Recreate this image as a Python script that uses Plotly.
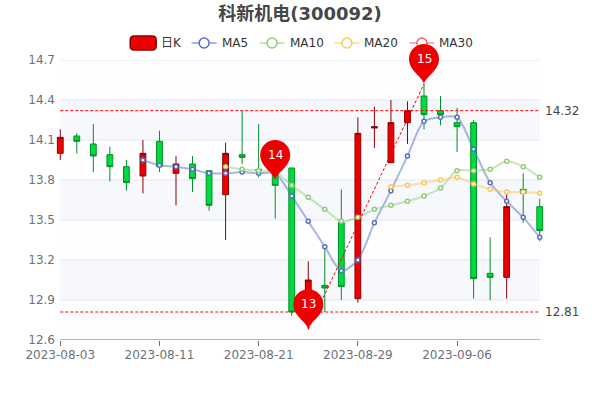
import plotly.graph_objects as go

dates = ["2023-08-03","2023-08-04","2023-08-07","2023-08-08","2023-08-09","2023-08-10","2023-08-11",
         "2023-08-14","2023-08-15","2023-08-16","2023-08-17","2023-08-18","2023-08-21","2023-08-22",
         "2023-08-23","2023-08-24","2023-08-25","2023-08-28","2023-08-29","2023-08-30","2023-08-31",
         "2023-09-01","2023-09-04","2023-09-05","2023-09-06","2023-09-07","2023-09-08","2023-09-11",
         "2023-09-12","2023-09-13"]
opens  = [14.00,14.13,14.07,13.99,13.90,13.83,14.09,13.85,13.92,13.87,13.69,13.99,13.88,13.87,13.89,12.82,13.01,13.48,12.91,14.19,13.93,14.23,14.43,14.32,14.23,14.23,13.10,13.07,13.73,13.60]
closes = [14.12,14.09,13.98,13.90,13.78,14.00,13.90,13.92,13.81,13.61,14.00,13.97,13.87,13.76,12.81,13.05,12.99,13.00,14.15,14.20,14.23,14.32,14.29,14.29,14.20,13.06,13.07,13.60,13.70,13.42]
highs  = [14.18,14.15,14.22,14.05,13.95,14.10,14.17,13.98,13.98,13.87,14.08,14.32,14.22,13.88,13.89,13.19,13.30,13.73,14.27,14.35,14.40,14.39,14.52,14.43,14.34,14.25,13.37,13.70,13.85,13.66]
lows   = [13.95,14.00,13.86,13.79,13.72,13.70,13.86,13.61,13.71,13.57,13.35,13.92,13.82,13.51,12.78,12.68,12.81,12.90,12.88,14.04,13.93,14.07,14.18,14.21,14.01,12.91,12.90,12.91,13.48,13.34]

ma5  = [None]*5 + [13.95,13.91,13.90,13.88,13.85,13.85,13.86,13.85,13.85,13.68,13.49,13.30,13.12,13.20,13.48,13.72,13.98,14.24,14.27,14.27,14.03,13.78,13.64,13.52,13.37]
ma10 = [None]*10 + [13.90,13.88,13.87,13.86,13.76,13.67,13.58,13.49,13.52,13.58,13.61,13.64,13.68,13.74,13.87,13.87,13.88,13.94,13.90,13.82]
ma20 = [None]*20 + [13.75,13.76,13.78,13.80,13.82,13.77,13.73,13.71,13.71,13.70]
ma30 = [None]*30

y_ticks = [12.6,12.9,13.2,13.5,13.8,14.1,14.4,14.7]
x_ticks = dates[0::6]
ref_high = 14.32
ref_low = 12.81
pin_labels = ["13","14","15"]
pin_x = [dates[15],dates[13],dates[22]]
pin_y = [12.68,13.80,14.52]

RED="#ec0000"; GREEN="#00da3c"
FONT="DejaVu Sans, Noto Sans CJK SC, sans-serif"
W=496.56; L=51.72
Y0,Y1=y_ticks[0],y_ticks[-1]
def px(x): return (x-L)/W
def py(y): return (340-y)/280
def vy(v): return (v-Y0)/(Y1-Y0)

fig = go.Figure()
fig.add_trace(go.Candlestick(x=dates,open=opens,high=highs,low=lows,close=closes,name="日K",
    increasing=dict(line=dict(color="#8A0000",width=1),fillcolor=RED),
    decreasing=dict(line=dict(color="#008F28",width=1),fillcolor=GREEN),
    whiskerwidth=0,hoverinfo="skip",showlegend=False))
series=[("MA5",ma5,"#5470c6","rgba(84,112,198,0.5)"),
        ("MA10",ma10,"#91cc75","rgba(145,204,117,0.5)"),
        ("MA20",ma20,"#fac858","rgba(250,200,88,0.5)"),
        ("MA30",ma30,"#ee6666","rgba(238,102,102,0.5)")]
for name,vals,col,rgba in series:
    fig.add_trace(go.Scatter(x=dates,y=vals,name=name,mode="lines+markers",showlegend=False,
        line=dict(color=rgba,width=2,shape="spline",smoothing=0.8),
        marker=dict(size=4,color="#ffffff",line=dict(color=col,width=1.5))))

dash = dict(color="#ff0000",width=1,dash="3px,2px")
for v in (ref_high,ref_low):
    fig.add_trace(go.Scatter(x=[dates[0],dates[-1]],y=[v,v],mode="lines",line=dash,showlegend=False,hoverinfo="skip"))
    fig.add_annotation(x=dates[-1],y=v,text=f"{v:.2f}",showarrow=False,xanchor="left",xshift=3,
                       font=dict(family=FONT,size=12,color="#464646"))
fig.add_trace(go.Scatter(x=[pin_x[0],pin_x[2]],y=[pin_y[0],pin_y[2]],mode="lines",line=dash,showlegend=False,hoverinfo="skip"))

shapes=[]
band=["rgba(250,250,250,0.2)","rgba(210,219,238,0.2)"]
for i,(a,b) in enumerate(zip(y_ticks[:-1],y_ticks[1:])):
    shapes.append(dict(type="rect",xref="x",yref="y",x0=dates[0],x1=dates[-1],y0=a,y1=b,
                       fillcolor=band[i%2],line_width=0,layer="below"))
for v in y_ticks[1:]:
    shapes.append(dict(type="line",xref="x",yref="y",x0=dates[0],x1=dates[-1],y0=v,y1=v,
                       line=dict(color="#E0E6F1",width=1),layer="below"))
shapes.append(dict(type="line",xref="x",yref="y",x0=dates[0],x1=dates[-1],y0=Y0,y1=Y0,
                   line=dict(color="#6E7079",width=1),layer="below"))

leg_y=43
shapes.append(dict(type="path",xref="paper",yref="paper",xsizemode="pixel",ysizemode="pixel",
    xanchor=px(143),yanchor=py(leg_y),
    path="M -9 -7 L 9 -7 Q 13 -7 13 -3 L 13 3 Q 13 7 9 7 L -9 7 Q -13 7 -13 3 L -13 -3 Q -13 -7 -9 -7 Z",
    fillcolor=RED,line=dict(color="#8A0000",width=1.5)))
fig.add_annotation(xref="paper",yref="paper",x=px(161),y=py(leg_y),text="日K",showarrow=False,xanchor="left",yanchor="middle",
                   xshift=-2,font=dict(family=FONT,size=12,color="#333333"))
icon_x=[204,272,347,422]
for (name,vals,col,rgba),cx in zip(series,icon_x):
    shapes.append(dict(type="line",xref="paper",yref="paper",x0=px(cx-12.5),x1=px(cx+12.5),y0=py(leg_y),y1=py(leg_y),
                       line=dict(color=rgba,width=2)))
    shapes.append(dict(type="circle",xref="paper",yref="paper",xsizemode="pixel",ysizemode="pixel",
                       xanchor=px(cx),yanchor=py(leg_y),x0=-5,x1=5,y0=-5,y1=5,fillcolor="#ffffff",line=dict(color=col,width=1.5)))
    fig.add_annotation(xref="paper",yref="paper",x=px(cx+17.5),y=py(leg_y),text=name,showarrow=False,xanchor="left",yanchor="middle",
                       xshift=-2,font=dict(family=FONT,size=12,color="#333333"))

PIN="M 0 0 C 2 8 15 13 15 25 C 15 33.3 8.3 40 0 40 C -8.3 40 -15 33.3 -15 25 C -15 13 -2 8 0 0 Z"
for x,y,t in zip(pin_x,pin_y,pin_labels):
    shapes.append(dict(type="path",xref="x",yref="paper",xsizemode="pixel",ysizemode="pixel",xanchor=x,yanchor=vy(y),
                       path=PIN,fillcolor=RED,line_width=0,layer="above"))
    fig.add_annotation(x=x,y=y,text=t,showarrow=False,yanchor="middle",yshift=25,font=dict(family=FONT,size=12,color="#ffffff"))

fig.update_layout(width=600,height=400,autosize=False,showlegend=False,
    paper_bgcolor="#ffffff",plot_bgcolor="rgba(0,0,0,0)",boxgap=0.5,
    margin=dict(l=L,r=L,t=60,b=60),shapes=shapes,
    title=dict(text="<b>科新机电(300092)</b>",x=0.5,xanchor="center",y=0.965,yanchor="middle",
               font=dict(family=FONT,size=18,color="#464646")),
    xaxis=dict(type="category",categoryorder="array",categoryarray=dates,range=[-0.5,29.5],
               rangeslider=dict(visible=False),tickmode="array",tickvals=x_ticks,ticktext=x_ticks,
               ticks="outside",ticklen=5,tickcolor="#6E7079",showgrid=False,zeroline=False,showline=False,
               ticklabelstandoff=-1,
               tickfont=dict(family=FONT,size=12,color="#6E7079"),tickangle=0),
    yaxis=dict(range=[Y0,Y1],tickmode="array",tickvals=y_ticks,ticktext=[f"{v:.1f}" for v in y_ticks],
               showgrid=False,zeroline=False,showline=False,ticks="",ticklabelstandoff=-4,
               tickfont=dict(family=FONT,size=12,color="#6E7079")))
fig.write_html("out.html",post_script="document.body.style.margin='0';",config=dict(displayModeBar=False))
